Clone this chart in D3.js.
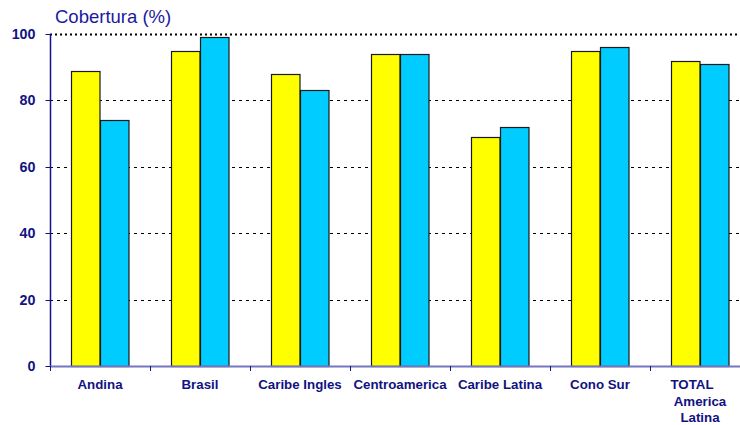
<!DOCTYPE html>
<html><head><meta charset="utf-8">
<script src="https://cdn.jsdelivr.net/npm/d3@7"></script>
<style>body{margin:0;background:#fff}svg{display:block}</style>
</head><body><svg id="c" width="740" height="425"></svg>
<script>
const categories = [["Andina"],["Brasil"],["Caribe Ingles"],["Centroamerica"],["Caribe Latina"],["Cono Sur"],["TOTAL","America","Latina"]];
const seriesA = [89, 95, 88, 94, 69, 95, 92];
const seriesB = [74, 99, 83, 94, 72, 96, 91];
const yTicks = [0, 20, 40, 60, 80, 100];
const title = "Cobertura (%)";

const svg = d3.select("#c");
const navy = "#121282";
const x = d3.scaleBand().domain(d3.range(categories.length)).range([50, 750]);
const y = d3.scaleLinear().domain([0, 100]).range([366, 34]);
const inner = d3.scaleBand().domain([0,1]).range([0, 57]);
const off = (x.bandwidth() - 57) / 2 - 0.5;

// gridlines
svg.append("g").selectAll("line").data(yTicks.filter(d => d > 0)).join("line")
  .attr("x1", 50).attr("x2", 740)
  .attr("y1", d => Math.round(y(d)) + 0.5).attr("y2", d => Math.round(y(d)) + 0.5)
  .attr("stroke", "#000")
  .attr("stroke-width", d => d === 100 ? 2 : 1)
  .attr("stroke-dasharray", d => d === 100 ? "2,3" : "3,4");

// bars
const series = [seriesA, seriesB];
const colors = ["#FFFF00", "#00CCFF"];
series.forEach((s, si) => {
  svg.append("g").selectAll("rect").data(s).join("rect")
    .attr("x", (d, i) => Math.round(x(i) + off + inner(si)) + 0.5)
    .attr("y", d => Math.round(y(d)) + 0.5)
    .attr("width", inner.bandwidth())
    .attr("height", d => Math.round(y(0)) - Math.round(y(d)))
    .attr("fill", colors[si])
    .attr("stroke", "#1a1a1a")
    .attr("stroke-width", 1.2);
});

// y axis
const ya = svg.append("g").attr("transform", "translate(50.5,0)");
ya.append("line").attr("y1", y(100)).attr("y2", y(0)).attr("stroke", navy).attr("stroke-width", 1.5);
ya.selectAll(".t").data(yTicks).join("line").attr("class", "t")
  .attr("x1", -5).attr("x2", 0)
  .attr("y1", d => Math.round(y(d)) + 0.5).attr("y2", d => Math.round(y(d)) + 0.5)
  .attr("stroke", navy);
ya.selectAll("text").data(yTicks).join("text")
  .attr("x", -15).attr("y", d => y(d) + 5)
  .attr("text-anchor", "end")
  .attr("font-family", "Liberation Sans, Arial, sans-serif")
  .attr("font-weight", "bold").attr("font-size", 14.3)
  .attr("fill", navy).text(d => d);

// x axis
const xa = svg.append("g");
xa.append("line").attr("x1", 50).attr("x2", 740).attr("y1", 366.5).attr("y2", 366.5)
  .attr("stroke", "#7575c0").attr("stroke-width", 2);
xa.selectAll(".t").data(d3.range(categories.length + 1)).join("line").attr("class", "t")
  .attr("x1", i => Math.round(50 + i * x.step()) + 0.5).attr("x2", i => Math.round(50 + i * x.step()) + 0.5)
  .attr("y1", 366).attr("y2", 371).attr("stroke", navy);
categories.forEach((lines, i) => {
  const t = xa.append("text")
    .attr("x", x(i) + x.bandwidth() / 2)
    .attr("text-anchor", "middle")
    .attr("font-family", "Liberation Sans, Arial, sans-serif")
    .attr("font-weight", "bold").attr("font-size", 13.3)
    .attr("fill", navy);
  lines.forEach((l, li) => {
    t.append("tspan").attr("x", x(i) + x.bandwidth() / 2 + (l === "TOTAL" ? -8 : 0))
      .attr("y", 389 + li * 16.5).text(l);
  });
});

// title
svg.append("text").attr("x", 55).attr("y", 23)
  .attr("font-family", "Liberation Sans, Arial, sans-serif")
  .attr("font-size", 18.5).attr("fill", "#1a1aa0").text(title);
</script></body></html>
